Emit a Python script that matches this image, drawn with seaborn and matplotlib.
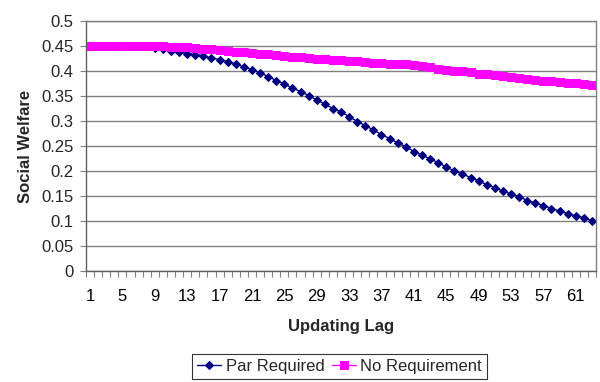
import matplotlib
matplotlib.use("Agg")
import matplotlib.pyplot as plt
from matplotlib.ticker import FixedLocator, NullFormatter
import numpy as np
import pandas as pd
import seaborn as sns

lags = list(range(1, 64))
par_required = [
    0.450, 0.450, 0.450, 0.450, 0.450, 0.450, 0.450, 0.450, 0.447, 0.445,
    0.441, 0.438, 0.435, 0.433, 0.430, 0.426, 0.423, 0.419, 0.414, 0.408,
    0.403, 0.396, 0.389, 0.381, 0.374, 0.366, 0.359, 0.351, 0.342, 0.334,
    0.325, 0.318, 0.309, 0.299, 0.291, 0.282, 0.273, 0.265, 0.256, 0.249,
    0.239, 0.232, 0.224, 0.217, 0.208, 0.200, 0.194, 0.187, 0.180, 0.173,
    0.167, 0.160, 0.154, 0.149, 0.141, 0.136, 0.131, 0.125, 0.120, 0.115,
    0.110, 0.107, 0.100,
]
no_requirement = [
    0.450, 0.450, 0.450, 0.450, 0.450, 0.450, 0.450, 0.450, 0.450, 0.450,
    0.449, 0.449, 0.448, 0.447, 0.445, 0.445, 0.442, 0.441, 0.439, 0.438,
    0.437, 0.435, 0.434, 0.432, 0.430, 0.429, 0.428, 0.426, 0.425, 0.424,
    0.423, 0.422, 0.421, 0.420, 0.418, 0.417, 0.416, 0.415, 0.415, 0.414,
    0.413, 0.411, 0.409, 0.405, 0.403, 0.401, 0.400, 0.398, 0.395, 0.394,
    0.392, 0.390, 0.389, 0.386, 0.385, 0.383, 0.381, 0.381, 0.379, 0.377,
    0.377, 0.375, 0.373,
]
series_names = ["Par Required", "No Requirement"]
x_tick_labels = [str(v) for v in range(1, 62, 4)]
y_ticks = [0, 0.05, 0.1, 0.15, 0.2, 0.25, 0.3, 0.35, 0.4, 0.45, 0.5]

df = pd.DataFrame({"lag": lags, series_names[0]: par_required, series_names[1]: no_requirement})

sns.set_style("white")
plt.rcParams["font.family"] = ["Liberation Sans", "DejaVu Sans"]

FS = 12

fig = plt.figure(figsize=(6.0, 3.82), dpi=100)
ax = fig.add_axes([86/600, 1 - 271/382, 510/600, 250/382])

sns.lineplot(data=df, x="lag", y=series_names[0], ax=ax, color="#000080",
             marker="D", markersize=4.4, markeredgecolor="#000080", linewidth=1.0,
             label=series_names[0])
sns.lineplot(data=df, x="lag", y=series_names[1], ax=ax, color="#FF00FF",
             marker="s", markersize=5.2, markeredgecolor="#FF00FF", linewidth=1.0,
             label=series_names[1])

ax.set_xlim(0.5, 63.5)
ax.set_ylim(0, 0.5)
ax.set_yticks(y_ticks)
ax.set_yticklabels([f"{v:g}" for v in y_ticks])
ax.yaxis.grid(True, color="#808080", linewidth=1.0)
ax.set_axisbelow(True)

ax.xaxis.set_major_locator(FixedLocator(list(range(1, 62, 4))))
ax.set_xticklabels(x_tick_labels)
ax.xaxis.set_minor_locator(FixedLocator([v + 0.5 for v in range(0, 64)]))
ax.xaxis.set_minor_formatter(NullFormatter())
ax.tick_params(axis="x", which="major", length=0, pad=13, labelsize=FS, colors="black")
ax.tick_params(axis="x", which="minor", length=4, width=0.8, color="#808080", direction="out", bottom=True)
ax.tick_params(axis="y", which="major", length=4, width=0.8, color="#808080", direction="out", left=True, pad=5, labelsize=FS)

for side in ["left", "bottom"]:
    ax.spines[side].set_color("#606060")
    ax.spines[side].set_linewidth(1.0)
for side in ["top", "right"]:
    ax.spines[side].set_color("#808080")
    ax.spines[side].set_linewidth(1.0)

ax.set_xlabel("Updating Lag", fontsize=FS, fontweight="bold", labelpad=11)
ax.set_ylabel("Social Welfare", fontsize=FS, fontweight="bold", labelpad=6)

ax.get_legend().remove()
handles, labels = ax.get_legend_handles_labels()
leg = fig.legend(handles, labels, loc="center", bbox_to_anchor=(339.5/600, 1 - 366/382),
                 ncol=2, frameon=True, fancybox=False, fontsize=FS,
                 handlelength=1.45, handletextpad=0.25, columnspacing=0.45,
                 borderpad=0.3, edgecolor="black")
leg.get_frame().set_linewidth(0.8)

fig.savefig("out.png", dpi=100)
